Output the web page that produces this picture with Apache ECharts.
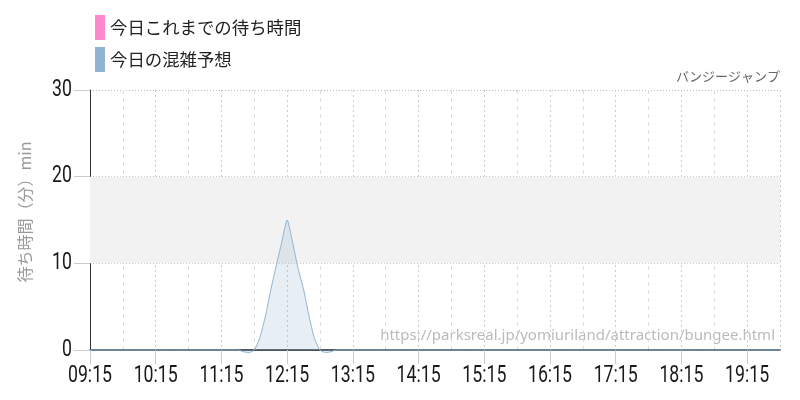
<!DOCTYPE html>
<html><head><meta charset="utf-8">
<script src="https://cdn.jsdelivr.net/npm/echarts@6/dist/echarts.min.js"></script>
<style>html,body{margin:0;padding:0;background:#fff}#c{width:800px;height:400px}</style>
</head><body><div id="c"></div>
<script>
const times = ["09:15","09:30","09:45","10:00","10:15","10:30","10:45","11:00","11:15","11:30",
  "11:35","11:40","11:45","11:50","11:55","12:00","12:05","12:10","12:15","12:20","12:25","12:30","12:35","12:40","12:45","12:50","12:55","13:00",
  "13:15","13:30","13:45","14:00","14:15","14:30","14:45","15:00","15:15","15:30","15:45","16:00","16:15","16:30","16:45","17:00","17:15","17:30","17:45","18:00","18:15","18:30","18:45","19:00","19:15","19:30","19:45"];
const forecast = [0,0,0,0,0,0,0,0,0,0,
  -0.2,-0.3,0,1.4,3.8,6.9,9.7,12.4,15,12.4,9.4,7.0,3.9,1.3,0,-0.3,-0.2,0,
  0,0,0,0,0,0,0,0,0,0,0,0,0,0,0,0,0,0,0,0,0,0,0,0,0,0,0];
const actual = [];
const legendNames = ["今日これまでの待ち時間","今日の混雑予想"];
const title = "バンジージャンプ";
const yName = "待ち時間（分）min";
const watermark = "https://parksreal.jp/yomiuriland/attraction/bungee.html";

const START = 9*60+15;
function toMin(t){const [h,m]=t.split(":").map(Number);return h*60+m-START;}
function fmt(v){const t=v+START;const h=Math.floor(t/60),m=t%60;return String(h).padStart(2,"0")+":"+String(m).padStart(2,"0");}

const numFont = "Roboto,'DejaVu Sans Condensed',sans-serif";
const jpFont = "'Noto Sans CJK JP',sans-serif";
const chart = echarts.init(document.getElementById('c'));
chart.setOption({
  animation:false,
  title:{text:title,right:20,top:70,padding:0,textStyle:{fontFamily:jpFont,fontSize:13,fontWeight:'normal',color:'#666'}},
  legend:{orient:'vertical',left:95,top:15,padding:0,itemWidth:10,itemHeight:25,itemGap:7,icon:'rect',
    textStyle:{fontFamily:jpFont,fontSize:17.4,color:'#222'},data:legendNames},
  grid:{left:90,right:20,top:90,bottom:50},
  xAxis:{type:'value',min:0,max:630,interval:60,
    axisLine:{show:true,onZero:false,lineStyle:{color:'#1a2533',width:1.5}},
    axisTick:{show:true,length:14,lineStyle:{color:'#ccc'}},
    axisLabel:{formatter:fmt,fontFamily:numFont,fontSize:23,color:'#1a1a1a',margin:15},
    splitLine:{show:true,lineStyle:{color:'#ccc',type:[2,3]}},
    minorTick:{show:false,splitNumber:2},
    minorSplitLine:{show:true,lineStyle:{color:'#ddd',type:[4,4]}}},
  yAxis:{type:'value',min:0,max:30,interval:10,name:yName,nameLocation:'middle',nameGap:57,
    nameTextStyle:{fontFamily:jpFont,fontSize:16,color:'#999',padding:[0,0,0,16]},
    axisLine:{show:true,lineStyle:{color:'#333'}},
    axisTick:{show:true,length:16,lineStyle:{color:'#ccc'}},
    axisLabel:{fontFamily:numFont,fontSize:23,color:'#1a1a1a',margin:18},
    splitLine:{show:true,lineStyle:{color:'#bbb',type:[1,2]}}},
  graphic:[{type:'text',right:25,top:328,style:{text:watermark,fontFamily:"'Noto Sans',sans-serif",fontSize:15,fill:'#bbb'}}],
  series:[
    {name:legendNames[0],type:'line',color:'#ff88cc',data:actual.map((v,i)=>[toMin(times[i]),v]),showSymbol:false},
    {name:legendNames[1],type:'line',color:'#8fb3d0',smooth:0.2,showSymbol:false,clip:false,
      lineStyle:{width:1,color:'#8fb3d0'},areaStyle:{color:'rgba(143,179,208,0.3)'},
      data:times.map((t,i)=>[toMin(t),forecast[i]]),
      markArea:{silent:true,itemStyle:{color:'#f2f2f2'},data:[[{yAxis:10},{yAxis:20}]]}}
  ]
});
// narrow the numeric axis labels to mimic a condensed face
(function(){
  const zr = chart.getZr();
  zr.storage.getDisplayList(true).forEach(el=>{
    const t = el.style && el.style.text;
    if (typeof t === 'string' && /^(\d\d:\d\d|\d+)$/.test(t)) { el.scaleX = 0.77; el.markRedraw(); }
  });
  zr.refreshImmediately();
})();
</script></body></html>
